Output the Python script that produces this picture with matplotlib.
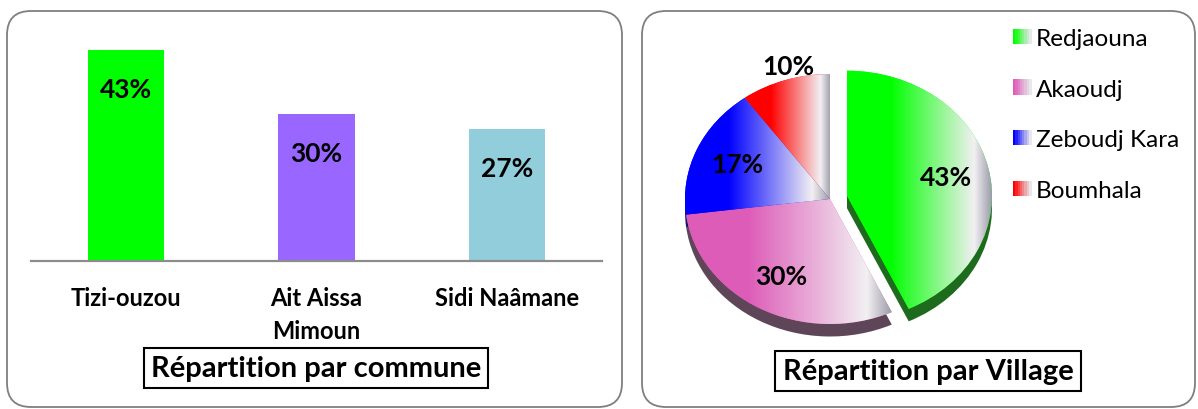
import matplotlib
matplotlib.use('Agg')
import matplotlib.pyplot as plt
import numpy as np
from matplotlib.patches import FancyBboxPatch, Rectangle, Patch
from matplotlib.transforms import IdentityTransform
from matplotlib.colors import LinearSegmentedColormap, to_rgb
from matplotlib.legend_handler import HandlerBase

# données
communes = ['Tizi-ouzou', 'Ait Aissa\nMimoun', 'Sidi Naâmane']
commune_pct = [43, 30, 27]
commune_colors = ['#00ff00', '#9966ff', '#92cddc']

villages = ['Redjaouna', 'Akaoudj', 'Zeboudj Kara', 'Boumhala']
village_pct = [43, 30, 17, 10]
village_colors = ['#00ff00', '#dd5cb8', '#0000ff', '#ff0000']
village_sides = ['#1e6b1e', '#5e4658', '#14147a', '#7a1010']

plt.rcParams['font.family'] = ['Lato', 'DejaVu Sans']

W, H = 1198, 410
fig = plt.figure(figsize=(W / 100, H / 100), dpi=100)


def px_axes(x0, y0, x1, y1):
    # boite en pixels, origine en haut a gauche
    return fig.add_axes([x0 / W, 1 - y1 / H, (x1 - x0) / W, (y1 - y0) / H])


# cadres arrondis
for x0, x1 in [(7, 622), (642, 1195)]:
    p = FancyBboxPatch((x0, 2), x1 - x0, 396, boxstyle='round,pad=0,rounding_size=24',
                       transform=IdentityTransform(), fc='white', ec='#7f7f7f', lw=1.3, zorder=-1)
    fig.add_artist(p)

# ---- barres ----
ax1 = px_axes(31, 41.5, 602, 262)
ax1.patch.set_visible(False)
x = np.arange(len(communes))
ax1.bar(x, commune_pct, width=0.4, color=commune_colors)
ax1.set_xlim(-0.5, 2.5)
ax1.set_ylim(0, 45)
for s in ['top', 'right', 'left']:
    ax1.spines[s].set_visible(False)
ax1.spines['bottom'].set_color('#8c8c8c')
ax1.spines['bottom'].set_linewidth(1.6)
ax1.set_yticks([])
ax1.set_xticks(x, communes, fontsize=17, fontweight='bold', linespacing=1.55)
ax1.tick_params(axis='x', length=0, pad=18)
for i, v in enumerate(commune_pct):
    ax1.text(i, v - 8, f'{v}%', ha='center', va='center', fontsize=19, fontweight='bold')

fig.text(316 / W, 1 - 369 / H, 'Répartition par commune', ha='center', va='center',
         fontsize=21, fontweight='bold',
         bbox=dict(boxstyle='square,pad=0.25', fc='white', ec='black', lw=1.5))

# ---- camembert ----
ax2 = px_axes(627, 37.5, 1033, 362.5)
explode = [0.12, 0, 0, 0]
side, _ = ax2.pie(village_pct, colors=village_sides, startangle=90, counterclock=False,
                  explode=explode, center=(0, -0.1), wedgeprops=dict(lw=0))
wedges, texts, autotexts = ax2.pie(village_pct, colors=village_colors, startangle=90,
                                   counterclock=False, explode=explode, autopct='%d%%',
                                   pctdistance=0.7, wedgeprops=dict(lw=0),
                                   textprops=dict(fontsize=19, fontweight='bold'))
for w in side:
    w.set_zorder(1)
grad = np.linspace(0, 1, 256).reshape(1, -1)
for w, c in zip(wedges, village_colors):
    w.set_zorder(2)
    ext = w.get_path().get_extents()
    cmap = LinearSegmentedColormap.from_list('g', [(0, c), (0.3, c), (0.88, '#f2f0f2'), (1, '#9c9cab')])
    im = ax2.imshow(grad, cmap=cmap, extent=[ext.x0, ext.x1, ext.y0, ext.y1],
                    aspect='auto', zorder=3, interpolation='bilinear')
    im.set_clip_path(w)
for w, t, v in zip(wedges, autotexts, village_pct):
    t.set_zorder(5)
    if v < 12:
        mid = np.deg2rad((w.theta1 + w.theta2) / 2)
        t.set_position((1.12 * np.cos(mid) + 0.06, 1.12 * np.sin(mid)))
ax2.set_aspect('auto')
ax2.set_xlim(-1.4, 1.4)
ax2.set_ylim(-1.3, 1.3)
ax2.axis('off')


class GradientHandler(HandlerBase):
    def create_artists(self, legend, orig_handle, xdescent, ydescent, width, height, fontsize, trans):
        c = np.array(to_rgb(orig_handle.get_facecolor()))
        light = np.array(to_rgb('#e8e8ec'))
        n = 8
        arts = []
        for i in range(n):
            f = i / (n - 1)
            col = c * (1 - f) + light * f
            r = Rectangle((-xdescent + i * width / n, -ydescent), width / n + 0.3, height,
                          fc=col, ec='none', transform=trans)
            arts.append(r)
        return arts


handles = [Patch(facecolor=c) for c in village_colors]
fig.legend(handles, villages, loc='upper left', bbox_to_anchor=(1013 / W, 1 - 29 / H),
           frameon=False, fontsize=17.5, handler_map={Patch: GradientHandler()},
           handlelength=0.75, handleheight=0.6, handletextpad=0.2, labelspacing=1.22,
           borderpad=0, borderaxespad=0)

fig.text(928 / W, 1 - 372 / H, 'Répartition par Village', ha='center', va='center',
         fontsize=21, fontweight='bold',
         bbox=dict(boxstyle='square,pad=0.25', fc='white', ec='black', lw=1.5))

fig.savefig('out.png', dpi=100)
